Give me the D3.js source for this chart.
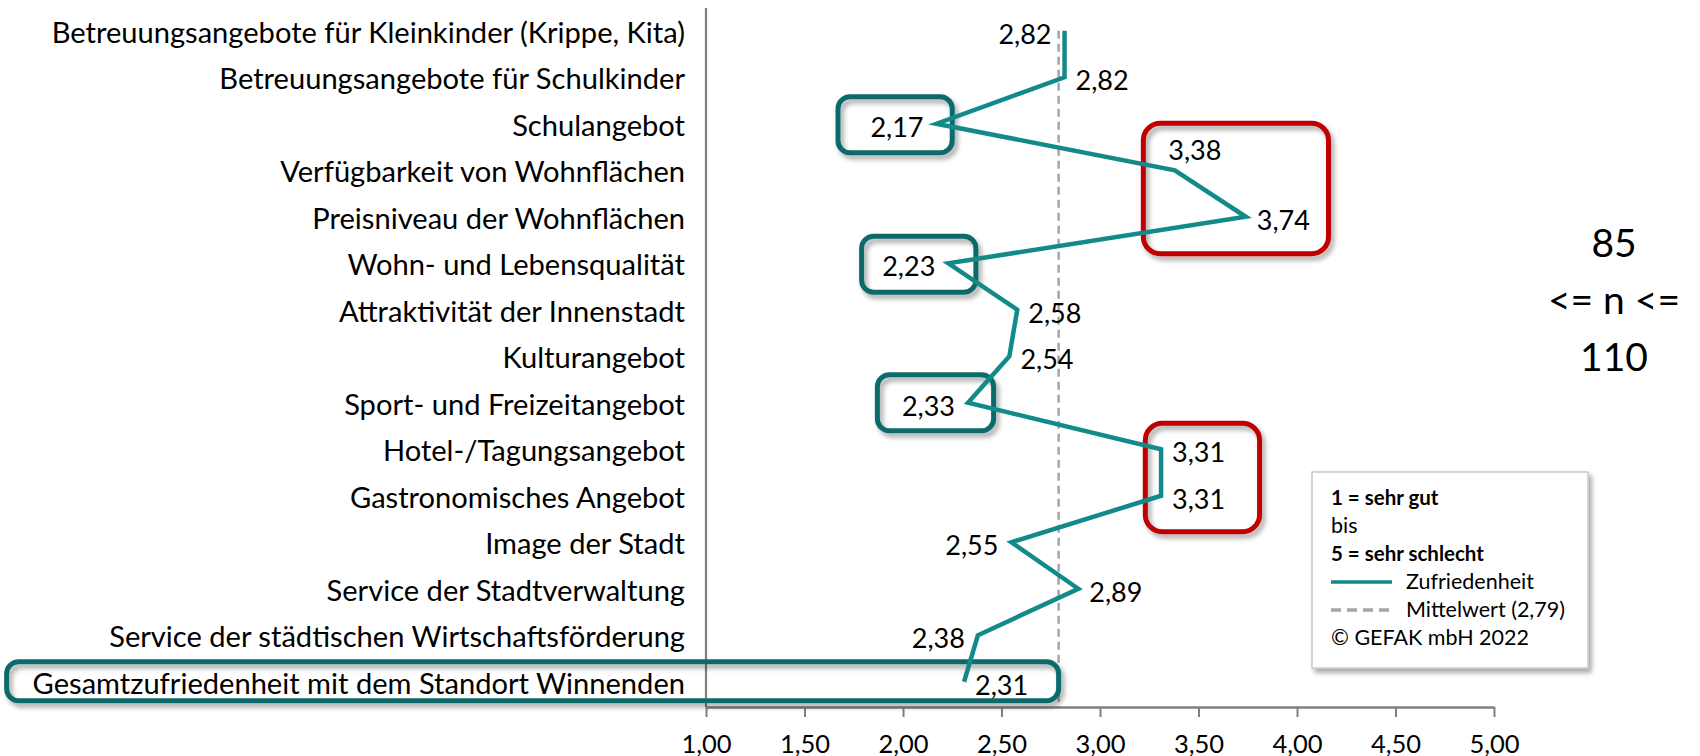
<!DOCTYPE html>
<html>
<head>
<meta charset="utf-8">
<script src="https://cdn.jsdelivr.net/npm/d3@7"></script>
<style>
  body { margin: 0; background: #fff; }
  svg { font-family: Lato, "Open Sans", sans-serif; }
</style>
</head>
<body>
<div id="chart-container"></div>
<script>
// categories (top to bottom) and mean satisfaction scores
const categories = [
    "Betreuungsangebote für Kleinkinder (Krippe, Kita)",
    "Betreuungsangebote für Schulkinder",
    "Schulangebot",
    "Verfügbarkeit von Wohnflächen",
    "Preisniveau der Wohnflächen",
    "Wohn- und Lebensqualität",
    "Attraktivität der Innenstadt",
    "Kulturangebot",
    "Sport- und Freizeitangebot",
    "Hotel-/Tagungsangebot",
    "Gastronomisches Angebot",
    "Image der Stadt",
    "Service der Stadtverwaltung",
    "Service der städtischen Wirtschaftsförderung",
    "Gesamtzufriedenheit mit dem Standort Winnenden"
];
const values = [2.82, 2.82, 2.17, 3.38, 3.74, 2.23, 2.58, 2.54, 2.33, 3.31, 3.31, 2.55, 2.89, 2.38, 2.31];
const labelSide = ["left", "right", "left", "above", "right", "left", "right", "right", "left", "right", "right", "left", "right", "left", "right"];
const meanValue = 2.79;
const xTicks = [1, 1.5, 2, 2.5, 3, 3.5, 4, 4.5, 5];

// highlight boxes: row range + value range (+ padding above/below the rows)
const highlights = [
    { from: 2, to: 2, x0: 1.67, x1: 2.25, kind: "good", padTop: 27, padBottom: 29 },
    { from: 5, to: 5, x0: 1.79, x1: 2.37, kind: "good", padTop: 27, padBottom: 29 },
    { from: 8, to: 8, x0: 1.87, x1: 2.46, kind: "good", padTop: 28, padBottom: 28 },
    { from: 14, to: 14, x0: -2.55, x1: 2.79, kind: "good", padTop: 20, padBottom: 19 },
    { from: 3, to: 4, x0: 3.22, x1: 4.16, kind: "bad", padTop: 47, padBottom: 37 },
    { from: 9, to: 10, x0: 3.23, x1: 3.81, kind: "bad", padTop: 26, padBottom: 36 }
];

const width = 1700, height = 756;
const lineColor = "#138a8a";
const boxColors = { good: "#0f6b6b", bad: "#c00000" };
const fmt = v => d3.format(".2f")(v).replace(".", ",");

const svg = d3.select("#chart-container")
    .append("svg")
    .attr("width", width)
    .attr("height", height);

// soft drop shadow used by boxes and legend
const defs = svg.append("defs");
const f = defs.append("filter").attr("id", "shadow")
    .attr("x", "-10%").attr("y", "-10%").attr("width", "130%").attr("height", "140%");
f.append("feDropShadow").attr("dx", 3).attr("dy", 4).attr("stdDeviation", 2.5)
    .attr("flood-color", "#000").attr("flood-opacity", 0.35);

const xScale = d3.scaleLinear().domain([1, 5]).range([706, 1494]);
const yScale = d3.scaleBand().domain(categories).range([7.5, 705]);
const yc = c => yScale(c) + yScale.bandwidth() / 2;

// mean line (dashed)
svg.append("line")
    .attr("x1", xScale(meanValue)).attr("x2", xScale(meanValue))
    .attr("y1", yc(categories[0])).attr("y2", 707)
    .attr("stroke", "#a6a6a6").attr("stroke-width", 2.5)
    .attr("stroke-dasharray", "8,5");

// vertical axis line
svg.append("line")
    .attr("x1", xScale(1)).attr("x2", xScale(1))
    .attr("y1", 8).attr("y2", 707)
    .attr("stroke", "#808080").attr("stroke-width", 2.2);

// bottom axis
const xAxis = svg.append("g")
    .attr("transform", "translate(0,707)")
    .call(d3.axisBottom(xScale).tickValues(xTicks).tickFormat(fmt).tickSizeInner(10).tickSizeOuter(0));
xAxis.select(".domain").attr("stroke", "#808080").attr("stroke-width", 2.5);
xAxis.selectAll(".tick line").attr("stroke", "#808080").attr("stroke-width", 2);
xAxis.selectAll(".tick text")
    .attr("y", 45.5).attr("dy", 0)
    .attr("font-size", 25.5).attr("font-family", "Lato").attr("fill", "#000");

// category labels
svg.append("g").selectAll("text")
    .data(categories)
    .enter().append("text")
    .attr("x", 685)
    .attr("y", d => yc(d) + 12)
    .attr("text-anchor", "end")
    .attr("font-size", 29.1)
    .attr("fill", "#000")
    .text(d => d);

// highlight boxes
svg.append("g").selectAll("rect")
    .data(highlights)
    .enter().append("rect")
    .attr("x", d => xScale(d.x0))
    .attr("width", d => xScale(d.x1) - xScale(d.x0))
    .attr("y", d => yc(categories[d.from]) - d.padTop)
    .attr("height", d => yc(categories[d.to]) - yc(categories[d.from]) + d.padTop + d.padBottom)
    .attr("rx", d => d.kind === "bad" ? 17 : 12)
    .attr("fill", "none")
    .attr("stroke", d => boxColors[d.kind])
    .attr("stroke-width", 5)
    .attr("filter", "url(#shadow)");

// satisfaction line
const points = categories.map((c, i) => ({ c, v: values[i], side: labelSide[i] }));
svg.append("path")
    .datum(points)
    .attr("fill", "none")
    .attr("stroke", lineColor)
    .attr("stroke-width", 4.5)
    .attr("stroke-linejoin", "miter")
    .attr("d", d3.line().x(d => xScale(d.v)).y(d => yc(d.c)));

// data labels
svg.append("g").selectAll("text")
    .data(points)
    .enter().append("text")
    .attr("x", d => d.side === "left" ? xScale(d.v) - 13 : d.side === "right" ? xScale(d.v) + 11 : xScale(d.v) + 20)
    .attr("y", d => d.side === "above" ? yc(d.c) - 10 : yc(d.c) + 13)
    .attr("text-anchor", d => d.side === "left" ? "end" : d.side === "right" ? "start" : "middle")
    .attr("font-size", 27)
    .attr("fill", "#000")
    .text(d => fmt(d.v));

// legend box
const lg = svg.append("g").attr("transform", "translate(1312,472)");
lg.append("rect").attr("width", 276).attr("height", 196)
    .attr("fill", "#fff").attr("stroke", "#c8c8c8").attr("stroke-width", 1.5)
    .attr("filter", "url(#shadow)");
const lgText = [
    { t: "1 = sehr gut", y: 33, bold: true, x: 19 },
    { t: "bis", y: 61, bold: false, x: 19 },
    { t: "5 = sehr schlecht", y: 89, bold: true, x: 19 },
    { t: "Zufriedenheit", y: 117, bold: false, x: 94 },
    { t: "Mittelwert (2,79)", y: 145, bold: false, x: 94 },
    { t: "© GEFAK mbH 2022", y: 173, bold: false, x: 19 }
];
lg.selectAll("text").data(lgText).enter().append("text")
    .attr("x", d => d.x).attr("y", d => d.y)
    .attr("font-size", d => d.bold ? 20.5 : 21.5)
    .attr("font-weight", d => d.bold ? "bold" : "normal")
    .attr("fill", "#000")
    .text(d => d.t);
lg.append("line").attr("x1", 19).attr("x2", 80).attr("y1", 110).attr("y2", 110)
    .attr("stroke", lineColor).attr("stroke-width", 3.5);
lg.append("line").attr("x1", 19).attr("x2", 80).attr("y1", 138).attr("y2", 138)
    .attr("stroke", "#a6a6a6").attr("stroke-width", 3.5).attr("stroke-dasharray", "10,6");

// sample size note
const nText = ["85", "<= n <=", "110"];
svg.append("g").selectAll("text").data(nText).enter().append("text")
    .attr("x", 1614)
    .attr("y", (d, i) => 257 + i * 57)
    .attr("text-anchor", "middle")
    .attr("font-size", 39)
    .attr("fill", "#000")
    .text(d => d);
</script>
</body>
</html>
